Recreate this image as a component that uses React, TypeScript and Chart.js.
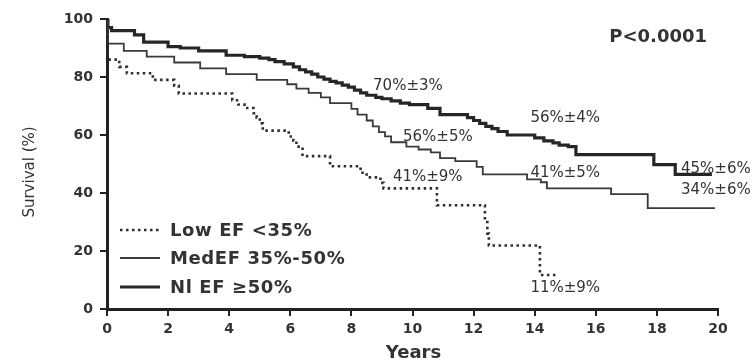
import React, { useEffect, useRef } from "react";
import { Chart, registerables } from "chart.js";

Chart.register(...registerables);

// Kaplan-Meier step points: year of drop, survival (%) after drop
const lowYears = [0, 0.02, 0.4, 0.65, 1.5, 2.2, 2.35, 4.1, 4.3, 4.5, 4.8, 4.9, 5.0, 5.1, 5.95, 6.1, 6.2, 6.4, 7.3, 8.3, 8.5, 8.95, 9.05, 10.8, 12.37, 12.45, 12.5, 14.17, 14.73];
const lowSurv = [100, 86, 83.5, 81.3, 79, 77, 74.3, 72, 70.5, 69.3, 67.5, 66, 64, 61.5, 59.5, 58, 56, 52.7, 49.2, 47, 45.4, 43.5, 41.6, 35.8, 30, 26, 21.9, 11.7, 11.7];

const medYears = [0, 0.03, 0.55, 1.3, 2.2, 3.05, 3.9, 4.9, 5.9, 6.2, 6.6, 7.0, 7.3, 8.0, 8.2, 8.5, 8.7, 8.9, 9.1, 9.3, 9.8, 10.2, 10.6, 10.9, 11.4, 12.1, 12.3, 13.75, 14.2, 14.4, 16.5, 17.7, 19.9];
const medSurv = [100, 91.5, 89, 87, 85, 83, 81, 79, 77.5, 76, 74.5, 73, 71, 69, 67, 65, 63, 61, 59.5, 57.5, 56, 55, 54, 52, 51, 49, 46.4, 44.7, 43.7, 41.6, 39.6, 34.8, 34.8];

const nlYears = [0, 0.03, 0.15, 0.9, 1.2, 2.0, 2.4, 3.0, 3.9, 4.5, 5.0, 5.3, 5.5, 5.8, 6.1, 6.3, 6.5, 6.7, 6.9, 7.1, 7.3, 7.5, 7.7, 7.9, 8.1, 8.3, 8.5, 8.8, 9.0, 9.3, 9.6, 9.9, 10.5, 10.9, 11.8, 12.0, 12.2, 12.4, 12.6, 12.8, 13.1, 14.0, 14.3, 14.6, 14.8, 15.1, 15.35, 17.9, 18.6, 19.8];
const nlSurv = [100, 97, 96, 94.5, 92, 90.5, 90, 89, 87.5, 87, 86.5, 86, 85.3, 84.5, 83.5, 82.5, 81.8, 81, 80, 79.3, 78.5, 78, 77.2, 76.5, 75.5, 74.5, 73.7, 73, 72.5, 71.8, 71, 70.5, 69.2, 67, 66, 65, 64, 63, 62.2, 61.2, 60, 59, 58, 57.3, 56.5, 56, 53.2, 49.8, 46.4, 46.4];

const seriesNames = ["Low EF <35%", "MedEF 35%-50%", "Nl EF \u226550%"];

const xTicks = [0, 2, 4, 6, 8, 10, 12, 14, 16, 18, 20];
const yTicks = [0, 20, 40, 60, 80, 100];

const annotationTexts = ["70%\u00b13%", "56%\u00b15%", "41%\u00b19%", "56%\u00b14%", "41%\u00b15%", "45%\u00b16%", "34%\u00b16%", "11%\u00b19%"];
const annotationYears = [9.85, 10.83, 10.5, 15.0, 15.0, 19.93, 19.93, 15.0];
const annotationLevels = [76.9, 59.3, 45.5, 65.9, 46.9, 48.3, 41.0, 7.2];

const pText = "P<0.0001";
const pYear = 18.04;
const pLevel = 93.8;

const toPoints = (xs: number[], ys: number[]) => xs.map((x, i) => ({ x, y: ys[i] }));

const styles = [
  { color: "#2e2e2e", width: 2.6, dash: [2.5, 3.5] },
  { color: "#3a3a3a", width: 1.8, dash: [] as number[] },
  { color: "#262626", width: 3.2, dash: [] as number[] },
];

export default function App() {
  const ref = useRef<HTMLCanvasElement | null>(null);

  useEffect(() => {
    const canvas = ref.current;
    if (!canvas) return;

    const textPlugin = {
      id: "kmText",
      afterDraw(chart: any) {
        const ctx = chart.ctx as CanvasRenderingContext2D;
        const xs = chart.scales.x;
        const ys = chart.scales.y;
        ctx.save();
        ctx.fillStyle = "#333";
        ctx.textAlign = "center";
        ctx.textBaseline = "middle";

        ctx.font = '15px "DejaVu Sans"';
        annotationTexts.forEach((t, i) => {
          ctx.fillText(t, xs.getPixelForValue(annotationYears[i]), ys.getPixelForValue(annotationLevels[i]));
        });

        ctx.font = 'bold 18px "DejaVu Sans"';
        ctx.fillText(pText, xs.getPixelForValue(pYear), ys.getPixelForValue(pLevel));

        // axis titles
        ctx.font = 'bold 18px "DejaVu Sans"';
        ctx.fillText("Years", (xs.left + xs.right) / 2 + 1, 353);
        ctx.save();
        ctx.translate(30, (ys.top + ys.bottom) / 2 + 8);
        ctx.rotate(-Math.PI / 2);
        ctx.font = '15px "DejaVu Sans"';
        ctx.fillText("Survival (%)", 0, 0);
        ctx.restore();

        // legend
        const rowY = [230, 258, 287];
        ctx.textAlign = "left";
        ctx.font = 'bold 18px "DejaVu Sans"';
        try { (ctx as any).letterSpacing = "0.6px"; } catch (e) {}
        seriesNames.forEach((name, i) => {
          const st = styles[i];
          ctx.save();
          ctx.strokeStyle = st.color;
          ctx.lineWidth = st.width;
          ctx.setLineDash(st.dash);
          ctx.beginPath();
          ctx.moveTo(120, rowY[i]);
          ctx.lineTo(160, rowY[i]);
          ctx.stroke();
          ctx.restore();
          ctx.fillText(name, 170, rowY[i] + 1);
        });
        try { (ctx as any).letterSpacing = "0px"; } catch (e) {}
        ctx.restore();
      },
    };

    const series = [toPoints(lowYears, lowSurv), toPoints(medYears, medSurv), toPoints(nlYears, nlSurv)];

    const tickFont = { family: '"DejaVu Sans"', size: 14, weight: "bold" as const };

    const chart = new Chart(canvas, {
      type: "line",
      data: {
        datasets: series.map((pts, i) => ({
          label: seriesNames[i],
          data: pts,
          stepped: "before" as const,
          borderColor: styles[i].color,
          borderWidth: styles[i].width,
          borderDash: styles[i].dash,
          pointRadius: 0,
          fill: false,
          tension: 0,
        })),
      },
      options: {
        animation: false,
        responsive: false,
        devicePixelRatio: 1,
        layout: { padding: { top: 19, right: 34, left: 0, bottom: 0 } },
        plugins: { legend: { display: false }, tooltip: { enabled: false }, title: { display: false } },
        scales: {
          x: {
            type: "linear",
            min: 0,
            max: 20,
            afterBuildTicks: (s: any) => { s.ticks = xTicks.map((v) => ({ value: v })); },
            afterFit: (s: any) => { s.height = 53; },
            ticks: { font: tickFont, color: "#333", padding: 5 },
            grid: { drawOnChartArea: false, drawTicks: true, tickLength: 7, color: "#222", lineWidth: 2 },
            border: { display: true, color: "#222", width: 3 },
          },
          y: {
            type: "linear",
            min: 0,
            max: 100,
            afterBuildTicks: (s: any) => { s.ticks = yTicks.map((v) => ({ value: v })); },
            afterFit: (s: any) => { s.width = 107; },
            ticks: { font: tickFont, color: "#333", padding: 7 },
            grid: { drawOnChartArea: false, drawTicks: true, tickLength: 7, color: "#222", lineWidth: 2 },
            border: { display: true, color: "#222", width: 3 },
          },
        },
      },
      plugins: [textPlugin],
    });

    return () => chart.destroy();
  }, []);

  return (
    <div style={{ position: "fixed", left: 0, top: 0, width: 752, height: 362, background: "#fff" }}>
      <canvas ref={ref} width={752} height={362} style={{ width: 752, height: 362 }} />
    </div>
  );
}
